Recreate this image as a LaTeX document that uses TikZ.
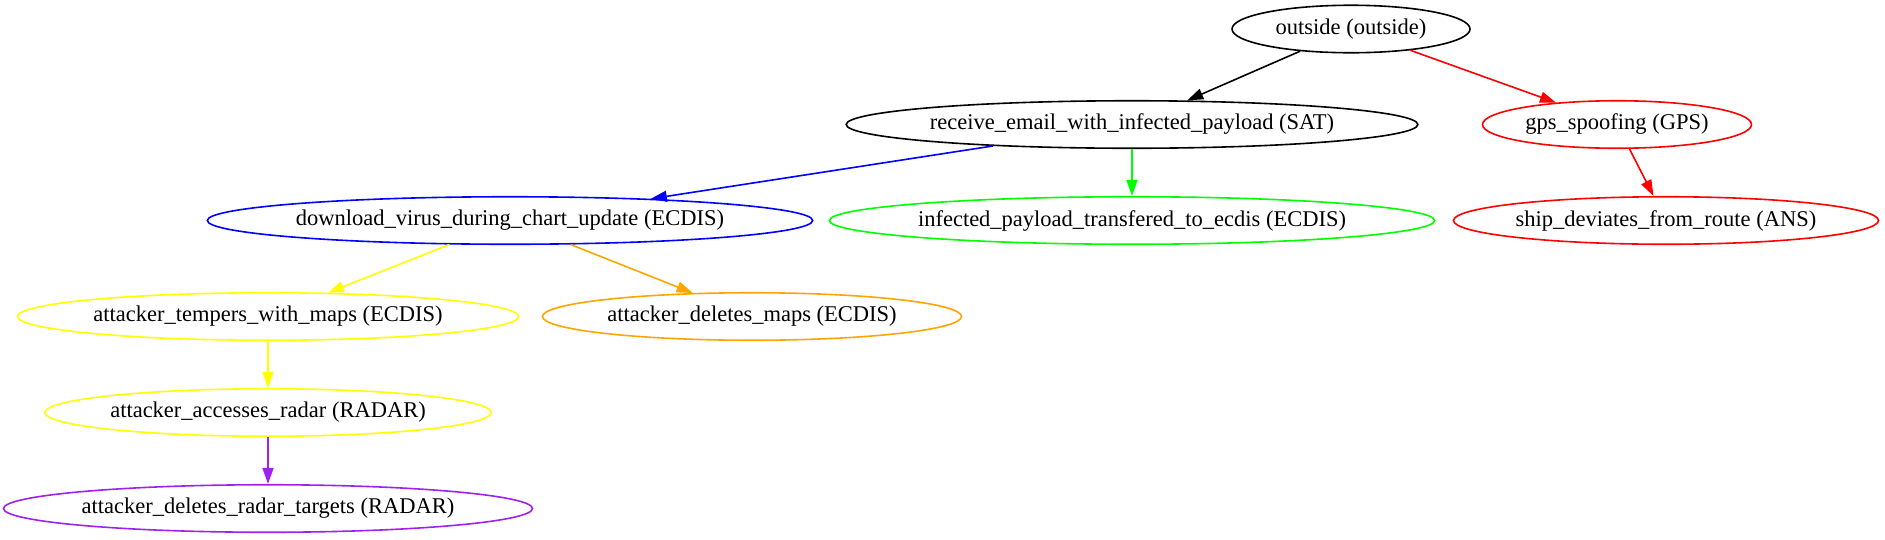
\documentclass[tikz,border=0pt]{standalone}
\usepackage{fontspec}
\setmainfont{Liberation Serif}
\usepackage{xcolor}
\usetikzlibrary{shapes.geometric,arrows.meta}

\definecolor{gvyellow}{RGB}{255,255,0}
\definecolor{gvorange}{RGB}{255,165,0}
\definecolor{gvpurple}{RGB}{160,32,240}
\definecolor{gvgreen}{RGB}{0,255,0}
\definecolor{gvblue}{RGB}{0,0,255}
\definecolor{gvred}{RGB}{255,0,0}

\tikzset{
  state/.style={draw, ellipse, line width=1.6pt, inner sep=0pt, minimum height=47.5pt,
    font=\fontsize{22.5}{27}\selectfont},
  edge/.style={line width=1.6pt, -{Triangle[length=16pt,width=11pt]}}
}

\begin{document}
\begin{tikzpicture}[x=1pt,y=-1pt]
        \useasboundingbox (0,0) rectangle (1885,539);

        \node[state, minimum width=238pt] (out) at (1351,29) {outside (outside)};
        \node[state, minimum width=558pt] (sat) at (1132,124.5) {receive\_email\_with\_infected\_payload (SAT)};
        \node[state, gvred, text=black, minimum width=269pt] (gps) at (1617,124.5) {gps\_spoofing (GPS)};
        \node[state, gvblue, text=black, minimum width=596pt] (dl) at (510,220.5) {download\_virus\_during\_chart\_update (ECDIS)};
        \node[state, gvgreen, text=black, minimum width=598pt] (inf) at (1132,220.5) {infected\_payload\_transfered\_to\_ecdis (ECDIS)};
        \node[state, gvred, text=black, minimum width=425pt] (ship) at (1666,220.5) {ship\_deviates\_from\_route (ANS)};
        \node[state, gvyellow, text=black, minimum width=501pt] (temp) at (268,316.5) {attacker\_tempers\_with\_maps (ECDIS)};
        \node[state, gvorange, text=black, minimum width=419pt] (delm) at (752,316.5) {attacker\_deletes\_maps (ECDIS)};
        \node[state, gvyellow, text=black, minimum width=442pt] (rad) at (268,412.5) {attacker\_accesses\_radar (RADAR)};
        \node[state, gvpurple, text=black, minimum width=529pt] (delr) at (268,508.5) {attacker\_deletes\_radar\_targets (RADAR)};

        % aristas
        \draw[edge] (out) -- (sat);
        \draw[edge, gvred] (out) -- (gps);
        \draw[edge, gvblue] (sat) -- (dl);
        \draw[edge, gvgreen] (sat) -- (inf);
        \draw[edge, gvred] (gps) -- (ship);
        \draw[edge, gvyellow] (dl) -- (temp);
        \draw[edge, gvorange] (dl) -- (delm);
        \draw[edge, gvyellow] (temp) -- (rad);
        \draw[edge, gvpurple] (rad) -- (delr);
    \end{tikzpicture}
\end{document}
